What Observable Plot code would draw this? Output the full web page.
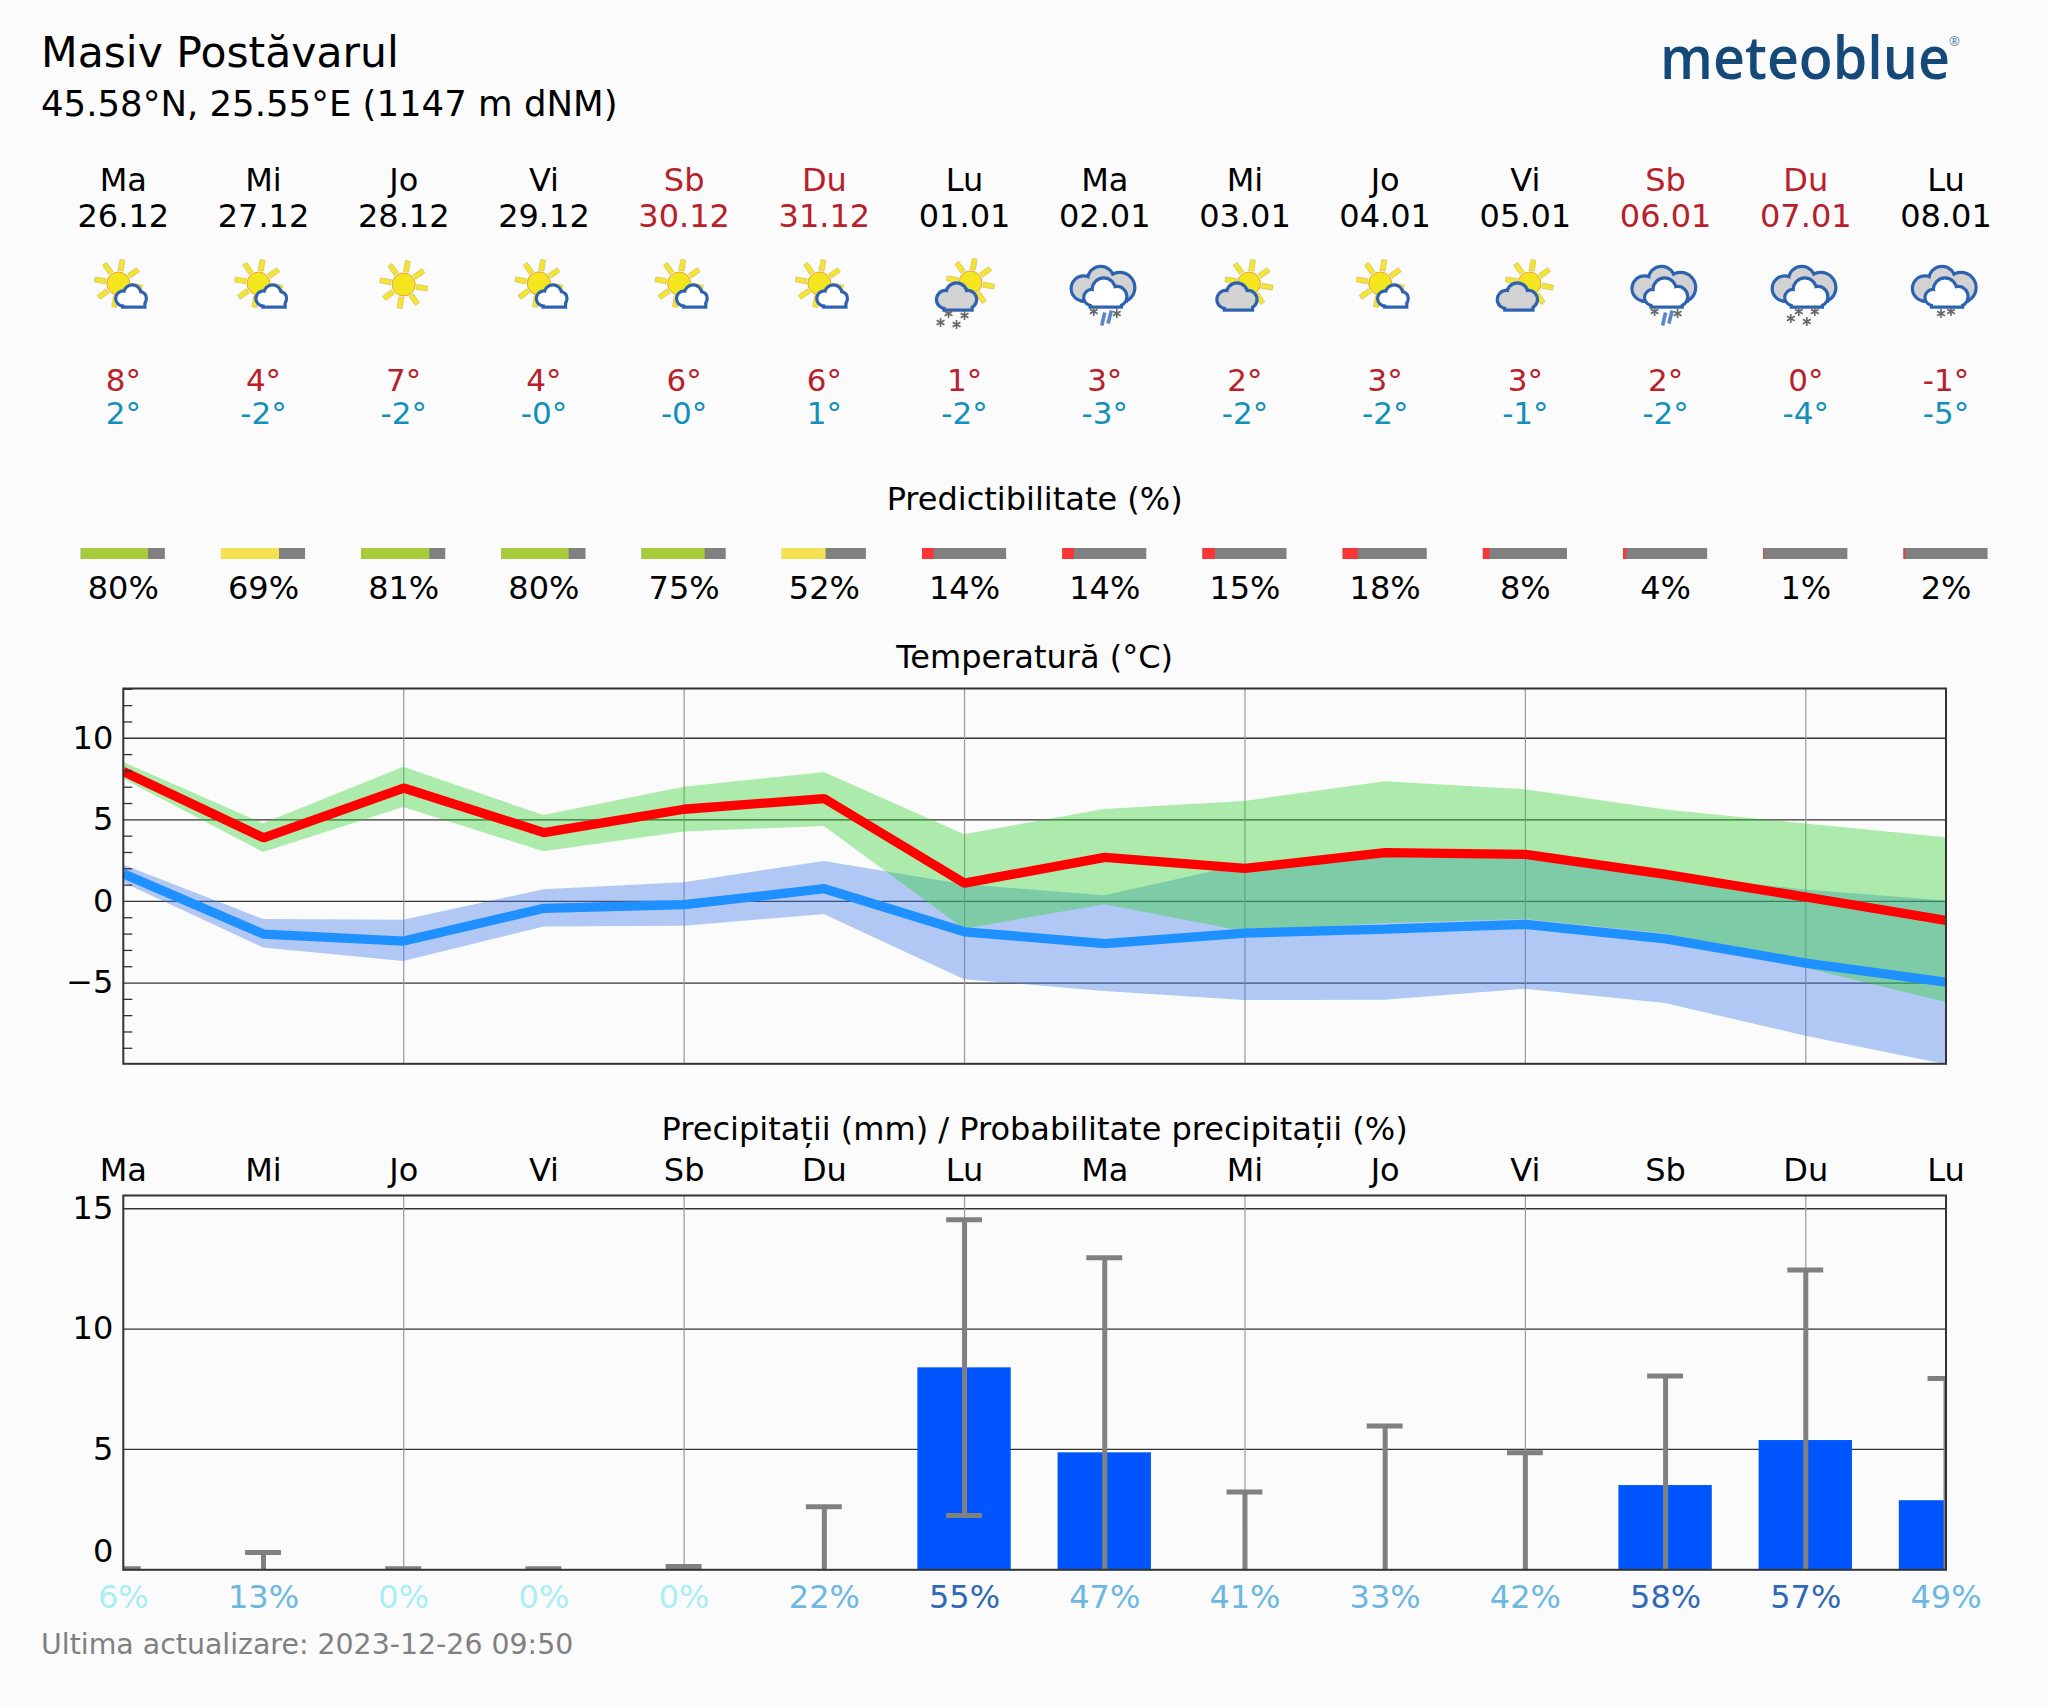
<!DOCTYPE html>
<html>
<head>
<meta charset="utf-8">
<title>Masiv Postăvarul</title>
<script src="https://cdn.jsdelivr.net/npm/d3@7"></script>
<script src="https://cdn.jsdelivr.net/npm/@observablehq/plot@0.6"></script>
<style>
  html, body { margin: 0; padding: 0; background: #fbfbfb; }
  #page { position: relative; width: 2048px; height: 1706px; background: #fbfbfb; font-family: "DejaVu Sans", sans-serif; color: #000; overflow: hidden; }
  #head { position: relative; height: 160px; }
  #title { position: absolute; left: 41px; top: 29px; font-size: 42.5px; line-height: 48px; white-space: nowrap; }
  #sub { position: absolute; left: 41px; top: 83px; font-size: 35.5px; line-height: 42px; white-space: nowrap; }
  #logo { position: absolute; left: 1660px; top: 16px; font-family: "Open Sans", sans-serif; font-weight: 600; font-size: 60px; line-height: 80px; color: #14497a; white-space: nowrap; transform: scaleX(0.925); transform-origin: left top; }
  #reg { position: absolute; left: 1949px; top: 33px; font-family: "Open Sans", sans-serif; font-size: 13px; line-height: 16px; color: #4a7aa8; white-space: nowrap; }
  #foot { position: absolute; left: 41px; top: 1627px; font-size: 28.4px; line-height: 36px; color: #808080; white-space: nowrap; }
  svg { display: block; }
</style>
</head>
<body>
<div id="page">
  <div id="head">
    <div id="title">Masiv Postăvarul</div>
    <div id="sub">45.58°N, 25.55°E (1147 m dNM)</div>
    <div id="logo">meteoblue</div>
    <div id="reg">®</div>
  </div>
  <div id="strip"></div>
  <div id="temp"></div>
  <div id="rain"></div>
  <div id="foot">Ultima actualizare: 2023-12-26 09:50</div>
</div>
<script>
const dayNames = ["Ma","Mi","Jo","Vi","Sb","Du","Lu","Ma","Mi","Jo","Vi","Sb","Du","Lu"];
const dates = ["26.12","27.12","28.12","29.12","30.12","31.12","01.01","02.01","03.01","04.01","05.01","06.01","07.01","08.01"];
const highLabels = ["8°","4°","7°","4°","6°","6°","1°","3°","2°","3°","3°","2°","0°","-1°"];
const lowLabels = ["2°","-2°","-2°","-0°","-0°","1°","-2°","-3°","-2°","-2°","-1°","-2°","-4°","-5°"];
const icons = ["sunCloud","sunCloud","sun","sunCloud","sunCloud","sunCloud","sunSnow","rainSnow","sunGrey","sunCloud","sunGrey","rainSnow","snow4","snow2"];
const predictability = [80,69,81,80,75,52,14,14,15,18,8,4,1,2];
const tempMax = [7.96,3.9,6.95,4.22,5.65,6.3,1.12,2.7,2.02,2.99,2.88,1.66,0.27,-1.17];
const tempMin = [1.69,-2.0,-2.43,-0.42,-0.2,0.78,-1.86,-2.58,-1.94,-1.7,-1.41,-2.29,-3.78,-4.95];
const maxUpper = [8.53,4.76,8.22,5.26,7.0,7.9,4.09,5.64,6.13,7.34,6.85,5.6,4.75,3.9];
const maxLower = [7.5,3.0,5.75,3.05,4.25,4.6,-1.7,-0.2,-1.85,-1.35,-1.1,-2.0,-4.1,-6.2];
const minUpper = [2.24,-1.1,-1.16,0.72,1.15,2.45,1.02,0.35,2.27,2.7,2.6,1.65,0.7,0.02];
const minLower = [1.14,-2.85,-3.68,-1.56,-1.52,-0.8,-4.8,-5.52,-6.07,-6.05,-5.38,-6.26,-8.26,-10];
const precip = [0,0,0,0,0,0,8.39,4.86,0,0,0,3.5,5.37,2.87];
const precipHigh = [0.04,0.72,0.04,0.04,0.14,2.62,14.54,12.96,3.23,5.97,4.86,8.05,12.45,7.95];
const precipLow = [0,0,0,0,0,0,2.26,0,0,0,0,0,0,0];
const precipProb = [6,13,0,0,0,22,55,47,41,33,42,58,57,49];
const weekendDays = ["Sb","Du"];
const gridDays = [2,4,6,8,10,12];
const tempTicks = [-5,0,5,10];
const tempMinor = [-9,-8,-7,-6,-4,-3,-2,-1,1,2,3,4,6,7,8,9,11,12,13];
const rainTicks = [5,10,15];

const rows = dayNames.map((name, i) => ({
  i, name, date: dates[i], high: highLabels[i], low: lowLabels[i], icon: icons[i],
  pred: predictability[i], tMax: tempMax[i], tMin: tempMin[i],
  mxU: maxUpper[i], mxL: maxLower[i], mnU: minUpper[i], mnL: minLower[i],
  rain: precip[i], rHi: precipHigh[i], rLo: precipLow[i], prob: precipProb[i]
}));

const FONT = "DejaVu Sans";
const SIZE = 32;
const INK = "#000";
const RED = "#b8202a";
const LOW = "#1090ba";
const base = {
  width: 2048, marginLeft: 122.8, marginRight: 102.5,
  x: {domain: [0, 13], axis: null},
  style: {background: "#fbfbfb", fontFamily: FONT, overflow: "visible"}
};
const dayColor = d => weekendDays.includes(d.name) ? RED : INK;
const predColor = p => p >= 75 ? "#a8cb3c" : p >= 50 ? "#f4e253" : "#f93535";
const probColor = p => p < 10 ? "#a8eef5" : p < 50 ? "#6cb8e3" : "#2f69b8";

// weather icon drawings
function flake(x, y) {
  let s = "";
  for (const a of [0, 60, 120]) s += `<line x1="0" y1="-4.5" x2="0" y2="4.5" transform="translate(${x} ${y}) rotate(${a})"/>`;
  return `<g stroke="#666" stroke-width="1.6" fill="none">${s}</g>`;
}
function sunShape(cx, cy) {
  let rays = "";
  for (let a = 10; a < 370; a += 45) rays += `<path d="M-2.6 -13 L-2.4 -24 L2.4 -24 L2.6 -13 Z" transform="translate(${cx} ${cy}) rotate(${a})" fill="#f3e530" stroke="#d8c060" stroke-width=".7"/>`;
  return rays + `<circle cx="${cx}" cy="${cy}" r="11.5" fill="#f3e51e" stroke="#f0a030" stroke-width="1"/>`;
}
function cloudShape(circles, x0, x1, y1, fill) {
  const outline = "#2c62b0";
  const shape = (f, s, w) => `<g fill="${f}" stroke="${s}" stroke-width="${w}">` +
    circles.map(c => `<circle cx="${c[0]}" cy="${c[1]}" r="${c[2]}"/>`).join("") +
    `<rect x="${x0}" y="${y1 - 9}" width="${x1 - x0}" height="9"/></g>`;
  return shape(outline, outline, 6.4) + shape(fill, fill, 0);
}
function rain() {
  return `<g stroke="#5a85c8" stroke-width="3.6"><line x1="0" y1="27" x2="-3" y2="40"/><line x1="6.6" y1="25" x2="3.3" y2="38"/></g>`;
}
const smallWhite = cloudShape([[0,13,6],[9,8,7],[16,13,5.5]], 1, 20, 20, "#fff");
const greySide = cloudShape([[-19,14,7.5],[-8,8,9],[3,14,7.5]], -19, 6, 23, "#d2d2d2");
const bigClouds = cloudShape([[-21,3,11],[-4,-6,11.5],[15,2,13.5]], -21, 20, 14, "#d2d2d2")
  + cloudShape([[-13,12,6.5],[-1,4,10],[12,11,8.5]], -13, 15, 20, "#fff");
const iconBody = {
  sun: sunShape(0, -1),
  sunCloud: sunShape(-5, -2) + smallWhite,
  sunGrey: sunShape(4, -2) + greySide,
  sunSnow: sunShape(6, -3) + greySide + flake(-16, 28) + flake(0, 30) + flake(-24, 37) + flake(-8, 39),
  rainSnow: bigClouds + flake(-11, 26) + flake(12, 28) + rain(),
  snow4: bigClouds + flake(-7, 26) + flake(9, 26) + flake(-15, 33) + flake(1, 36),
  snow2: bigClouds + flake(-5, 28) + flake(5, 26)
};
const iconUri = k => "data:image/svg+xml," + encodeURIComponent(
  `<svg xmlns="http://www.w3.org/2000/svg" viewBox="-50 -50 100 100" width="100" height="100">${iconBody[k]}</svg>`);

const txt = (text, fill, dy, extra = {}) => Plot.text(rows, {
  x: "i", text, fill, frameAnchor: "top", lineAnchor: "middle", dy, fontSize: SIZE, ...extra
});

// forecast strip
document.getElementById("strip").append(Plot.plot({
  ...base, height: 470, marginTop: 0, marginBottom: 0,
  marks: [
    txt("name", dayColor, 20),
    txt("date", dayColor, 56),
    Plot.image(rows, {x: "i", frameAnchor: "top", dy: 125, src: d => iconUri(d.icon), width: 100, height: 100}),
    txt("high", RED, 220.5, {fontSize: 31}),
    txt("low", LOW, 253.5, {fontSize: 31}),
    Plot.text(["Predictibilitate (%)"], {x: () => 6.5, text: d => d, frameAnchor: "top", lineAnchor: "middle", dy: 339, fontSize: SIZE, fill: INK}),
    Plot.rect(rows, {x1: d => d.i - 0.3, x2: d => d.i + 0.3, insetTop: 388, insetBottom: 71, fill: "#808080"}),
    Plot.rect(rows, {x1: d => d.i - 0.3, x2: d => d.i - 0.3 + 0.6 * d.pred / 100, insetTop: 388, insetBottom: 71, fill: d => predColor(d.pred)}),
    txt(d => d.pred + "%", INK, 428)
  ]
}));

// temperature panel
document.getElementById("temp").append(Plot.plot({
  ...base, height: 460, marginTop: 58, marginBottom: 26.7,
  y: {domain: [-9.95, 13.05], axis: null},
  marks: [
    Plot.ruleY(tempTicks, {stroke: "#333", strokeWidth: 1.3}),
    Plot.ruleX(gridDays, {stroke: "#999", strokeWidth: 1.2}),
    Plot.areaY(rows, {x: "i", y1: "mnL", y2: "mnU", fill: "#417ce9", fillOpacity: 0.4, curve: "linear", clip: true}),
    Plot.areaY(rows, {x: "i", y1: "mxL", y2: "mxU", fill: "#2dd22d", fillOpacity: 0.38, curve: "linear", clip: true}),
    Plot.line(rows, {x: "i", y: "tMin", stroke: "#1e90ff", strokeWidth: 9.3, strokeLinejoin: "miter", strokeLinecap: "butt", clip: true}),
    Plot.line(rows, {x: "i", y: "tMax", stroke: "#ff0000", strokeWidth: 9.3, strokeLinejoin: "miter", strokeLinecap: "butt", clip: true}),
    Plot.axisY({ticks: tempTicks, tickSize: 0, tickPadding: 10, fontSize: SIZE, label: null}),
    Plot.axisY({ticks: tempMinor, tickSize: -9.5, tickFormat: () => "", label: null, stroke: "#333", strokeWidth: 1.3}),
    Plot.frame({stroke: "#333", strokeWidth: 2}),
    Plot.text(["Temperatură (°C)"], {x: () => 6.5, text: d => d, frameAnchor: "top", lineAnchor: "middle", dy: -31, fontSize: SIZE, fill: INK})
  ]
}));

// precipitation panel
document.getElementById("rain").append(Plot.plot({
  ...base, height: 530, marginTop: 105, marginBottom: 50.7,
  y: {domain: [0, 15.55], axis: null},
  marks: [
    Plot.ruleY(rainTicks, {stroke: "#333", strokeWidth: 1.3}),
    Plot.ruleX(gridDays, {stroke: "#999", strokeWidth: 1.2}),
    Plot.rect(rows, {x1: d => d.i - 0.333, x2: d => d.i + 0.333, y1: 0, y2: "rain", fill: "#0055ff", clip: true}),
    Plot.ruleX(rows, {x: "i", y1: "rLo", y2: "rHi", stroke: "#808080", strokeWidth: 5, clip: true}),
    Plot.ruleY(rows, {y: "rHi", x1: d => d.i - 0.128, x2: d => d.i + 0.128, stroke: "#808080", strokeWidth: 5, clip: true}),
    Plot.ruleY(rows.filter(d => d.rLo > 0), {y: "rLo", x1: d => d.i - 0.128, x2: d => d.i + 0.128, stroke: "#808080", strokeWidth: 5, clip: true}),
    Plot.axisY({ticks: rainTicks, tickSize: 0, tickPadding: 10, fontSize: SIZE, label: null}),
    Plot.axisY({ticks: [0], tickSize: 0, tickPadding: 10, fontSize: SIZE, label: null, dy: -18}),
    Plot.frame({stroke: "#333", strokeWidth: 2}),
    Plot.text(["Precipitații (mm) / Probabilitate precipitații (%)"], {x: () => 6.5, text: d => d, frameAnchor: "top", lineAnchor: "middle", dy: -66, fontSize: SIZE, fill: INK}),
    txt("name", INK, -25),
    Plot.text(rows, {x: "i", text: d => d.prob + "%", fill: d => probColor(d.prob), frameAnchor: "bottom", lineAnchor: "middle", dy: 28, fontSize: SIZE})
  ]
}));
</script>
</body>
</html>
